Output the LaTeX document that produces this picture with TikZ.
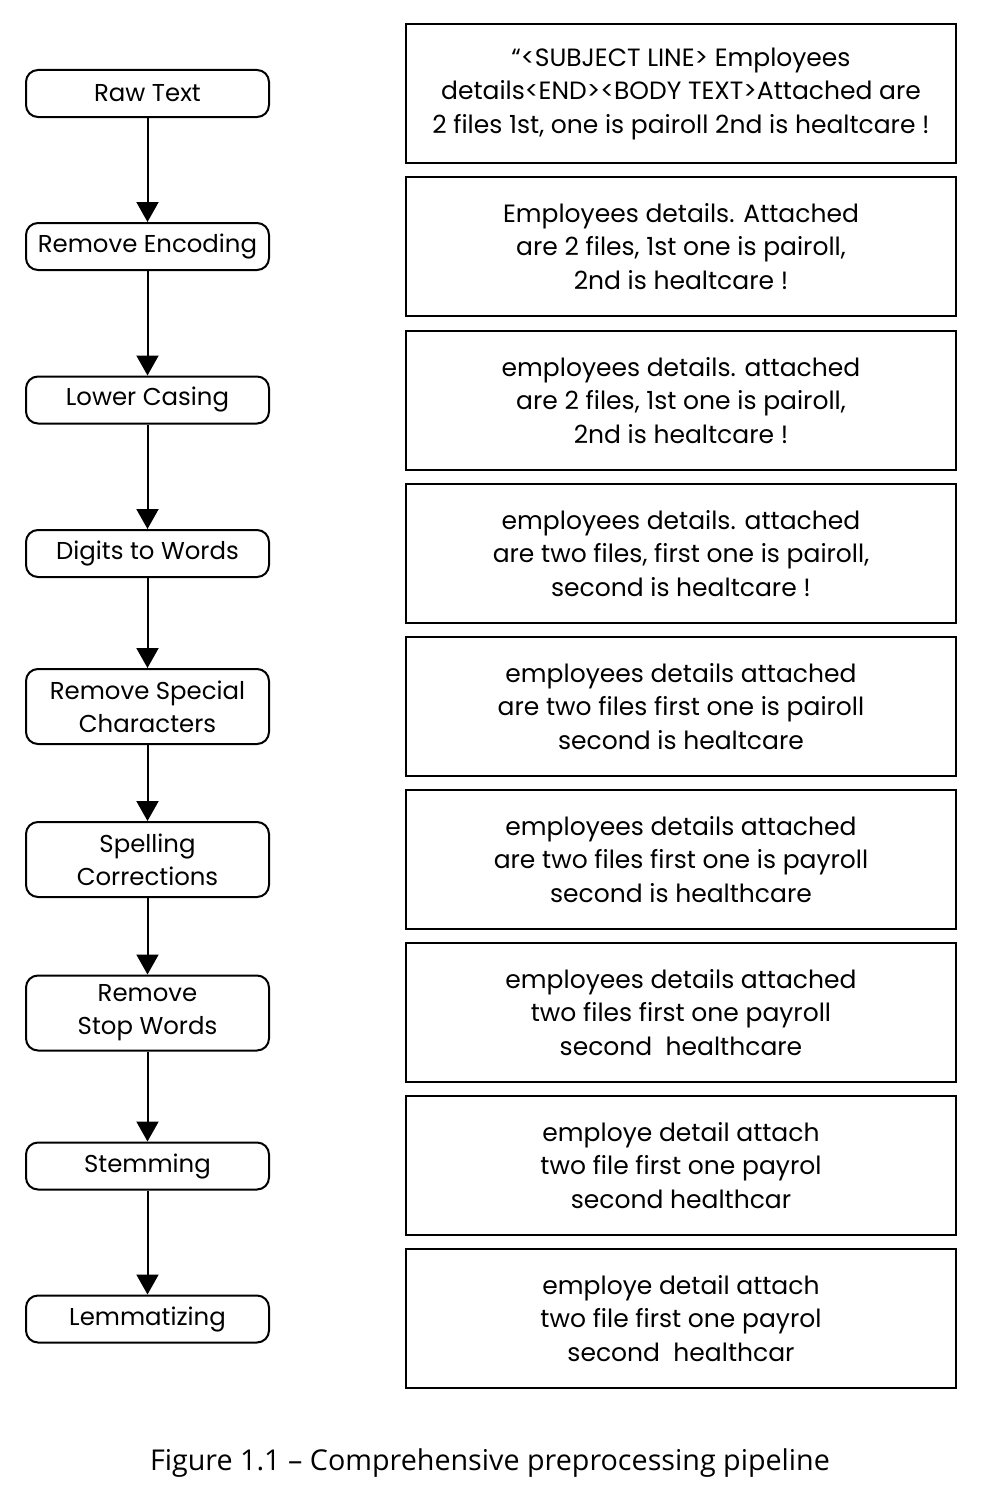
\documentclass[tikz,border=0pt]{standalone}
\usepackage{fontspec}
\setmainfont{Poppins}
\newfontfamily\capfont{Open Sans}
\usetikzlibrary{arrows.meta}
\begin{document}
\begin{tikzpicture}[x=1pt,y=-1pt,
  stepbox/.style={draw,line width=2pt,rounded corners=12pt,minimum width=243pt,align=center,inner sep=0pt,font=\fontsize{24.4}{33}\selectfont},
  txtbox/.style={draw,line width=2pt,minimum width=550pt,minimum height=139pt,align=center,inner sep=0pt,font=\fontsize{25}{33.5}\selectfont},
  flow/.style={line width=2pt,-{Triangle[width=22pt,length=20pt]}}]
\path[use as bounding box,fill=white] (0,0) rectangle (984,1488);
\node[stepbox,minimum height=47pt] (s1) at (147.5,93.5) {Raw Text};
\node[stepbox,minimum height=47pt] (s2) at (147.5,246.5) {Remove Encoding};
\node[stepbox,minimum height=47pt] (s3) at (147.5,400) {Lower Casing};
\node[stepbox,minimum height=47pt] (s4) at (147.5,553.5) {Digits to Words};
\node[stepbox,minimum height=75pt] (s5) at (147.5,706.5) {Remove Special\\Characters};
\node[stepbox,minimum height=75pt] (s6) at (147.5,859.5) {Spelling\\Corrections};
\node[stepbox,minimum height=75pt] (s7) at (147.5,1013) {Remove\\Stop Words};
\node[stepbox,minimum height=47pt] (s8) at (147.5,1166) {Stemming};
\node[stepbox,minimum height=47pt] (s9) at (147.5,1319) {Lemmatizing};
\foreach \a/\b in {s1/s2,s2/s3,s3/s4,s4/s5,s5/s6,s6/s7,s7/s8,s8/s9}
  \draw[flow] (\a) -- (\b);
\node[txtbox] (t1) at (681,93.5) {``<SUBJECT LINE> Employees\\details<END><BODY TEXT>Attached are\\2 files 1st, one is pairoll 2nd is healtcare !};
\node[txtbox] (t2) at (681,246.5) {Employees details. Attached\\are 2 files, 1st one is pairoll,\\2nd is healtcare !};
\node[txtbox] (t3) at (681,400.5) {employees details. attached\\are 2 files, 1st one is pairoll,\\2nd is healtcare !};
\node[txtbox] (t4) at (681,553.5) {employees details. attached\\are two files, first one is pairoll,\\second is healtcare !};
\node[txtbox] (t5) at (681,706.5) {employees details attached\\are two files first one is pairoll\\second is healtcare};
\node[txtbox] (t6) at (681,859.5) {employees details attached\\are two files first one is payroll\\second is healthcare};
\node[txtbox] (t7) at (681,1012.5) {employees details attached\\two files first one payroll\\second\ \ healthcare};
\node[txtbox] (t8) at (681,1165.5) {employe detail attach\\two file first one payrol\\second healthcar};
\node[txtbox] (t9) at (681,1318.5) {employe detail attach\\two file first one payrol\\second\ \ healthcar};
\node[font=\capfont\fontsize{28.7}{32}\selectfont,anchor=base] (cap) at (490,1470) {Figure 1.1 – Comprehensive preprocessing pipeline};
\end{tikzpicture}
\end{document}
